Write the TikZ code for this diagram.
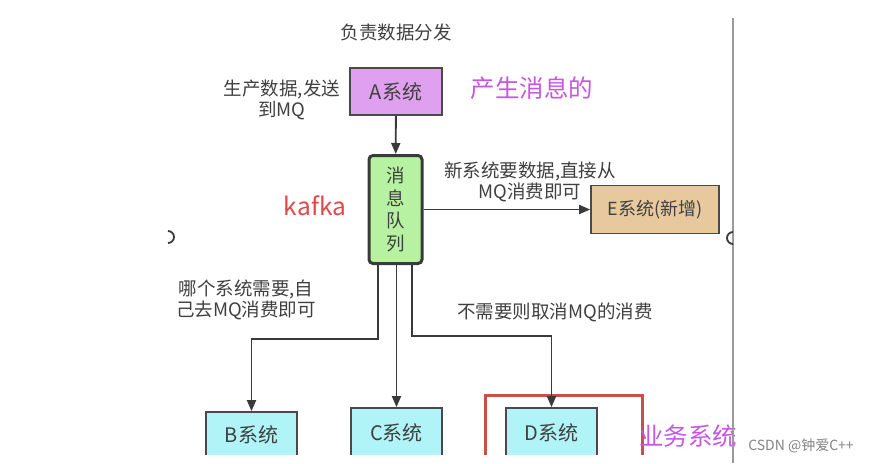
\documentclass[tikz,border=0pt]{standalone}
\usepackage{fontspec}
\setmainfont{Noto Sans CJK SC}
\usetikzlibrary{arrows.meta}
\definecolor{txt}{HTML}{404040}
\definecolor{boxline}{HTML}{4A4A4A}
\definecolor{linec}{HTML}{3A3A3A}
\definecolor{afill}{HTML}{DFA0F0}
\definecolor{mqfill}{HTML}{B6F2A2}
\definecolor{efill}{HTML}{E8C99E}
\definecolor{cfill}{HTML}{B0F4F7}
\definecolor{purp}{HTML}{C558E2}
\definecolor{redt}{HTML}{E34848}
\definecolor{redbox}{HTML}{C9504A}
\definecolor{sidegray}{HTML}{9A9A9A}
\begin{document}
\begin{tikzpicture}[x=1pt,y=-1pt,
  box/.style={draw=boxline, line width=1.7pt, inner sep=0pt, text=txt,
    font=\fontsize{20}{24}\selectfont},
  arr/.style={draw=linec, line width=1.8pt, -{Triangle[length=11pt,width=9pt]}},
  lbl/.style={text=txt, font=\fontsize{18.5}{21}\selectfont, align=center, inner sep=0pt},
  big/.style={font=\fontsize{24.5}{28}\selectfont, inner sep=0pt}]
\fill[white] (0,0) rectangle (872,463);
\useasboundingbox (0,0) rectangle (872,463);

% top nodes
\node[box, fill=afill, minimum width=92pt, minimum height=47pt] (A) at (396,91.5) {A系统};
\node[box, fill=mqfill, draw=linec, line width=3pt, rounded corners=4pt,
      minimum width=53pt, minimum height=108pt, align=center,
      font=\fontsize{18.5}{22.7}\selectfont] (MQ) at (395.5,209.5) {消\\息\\队\\列};
\node[box, fill=efill, minimum width=128pt, minimum height=48pt,
      font=\fontsize{18}{20}\selectfont] (E) at (655,209.5) {E系统(新增)};

% bottom nodes (clipped at the bottom of the picture)
\begin{scope}
\clip (0,0) rectangle (872,454);
\node[box, fill=cfill, minimum width=91pt, minimum height=50pt] (B) at (251.5,437) {\raisebox{5pt}{B系统}};
\node[box, fill=cfill, minimum width=91pt, minimum height=54pt] (C) at (396.5,435) {\raisebox{5pt}{C系统}};
\node[box, fill=cfill, minimum width=91pt, minimum height=54pt] (D) at (551.5,435) {\raisebox{5pt}{D系统}};
\draw[redbox, line width=3pt] (485,460) -- (485,395) -- (642,395) -- (642,460);
\end{scope}

% connectors
\draw[arr] (A) -- (MQ);
\draw[arr] (MQ.east) -- (E.west);
\draw[arr] ([xshift=-17.5pt]MQ.south) -- ++(0,74) -| (B.north);
\draw[arr] (MQ.south -| C.north) -- (C.north);
\draw[arr] ([xshift=16.5pt]MQ.south) -- ++(0,71) -| (D.north);

% labels
\node[lbl] (t1) at (396,32) {负责数据分发};
\node[lbl] (t2) at (282,100) {生产数据,发送\\到MQ};
\node[lbl] (t3) at (530,182) {新系统要数据,直接从\\MQ消费即可};
\node[lbl] (t4) at (246,300) {哪个系统需要,自\\己去MQ消费即可};
\node[lbl] (t5) at (555,312) {不需要则取消MQ的消费};
\node[big, text=purp] (t6) at (532,88) {产生消息的};
\node[big, text=redt] (t7) at (315,206) {kafka};
\node[big, text=purp] (t8) at (688,436) {业务系统};
\node[text=sidegray!85!black, font=\fontsize{14}{16}\selectfont, inner sep=0pt] (t9) at (801,446) {CSDN @钟爱C++};

% side decorations
\draw[sidegray, line width=1.5pt] (733,18) -- (733,463);
\draw[linec, line width=1.8pt] (733,232) arc[start angle=90, end angle=270, radius=6pt];
\draw[linec, line width=1.8pt] (168,231) arc[start angle=90, end angle=-90, radius=6pt];
\end{tikzpicture}
\end{document}
